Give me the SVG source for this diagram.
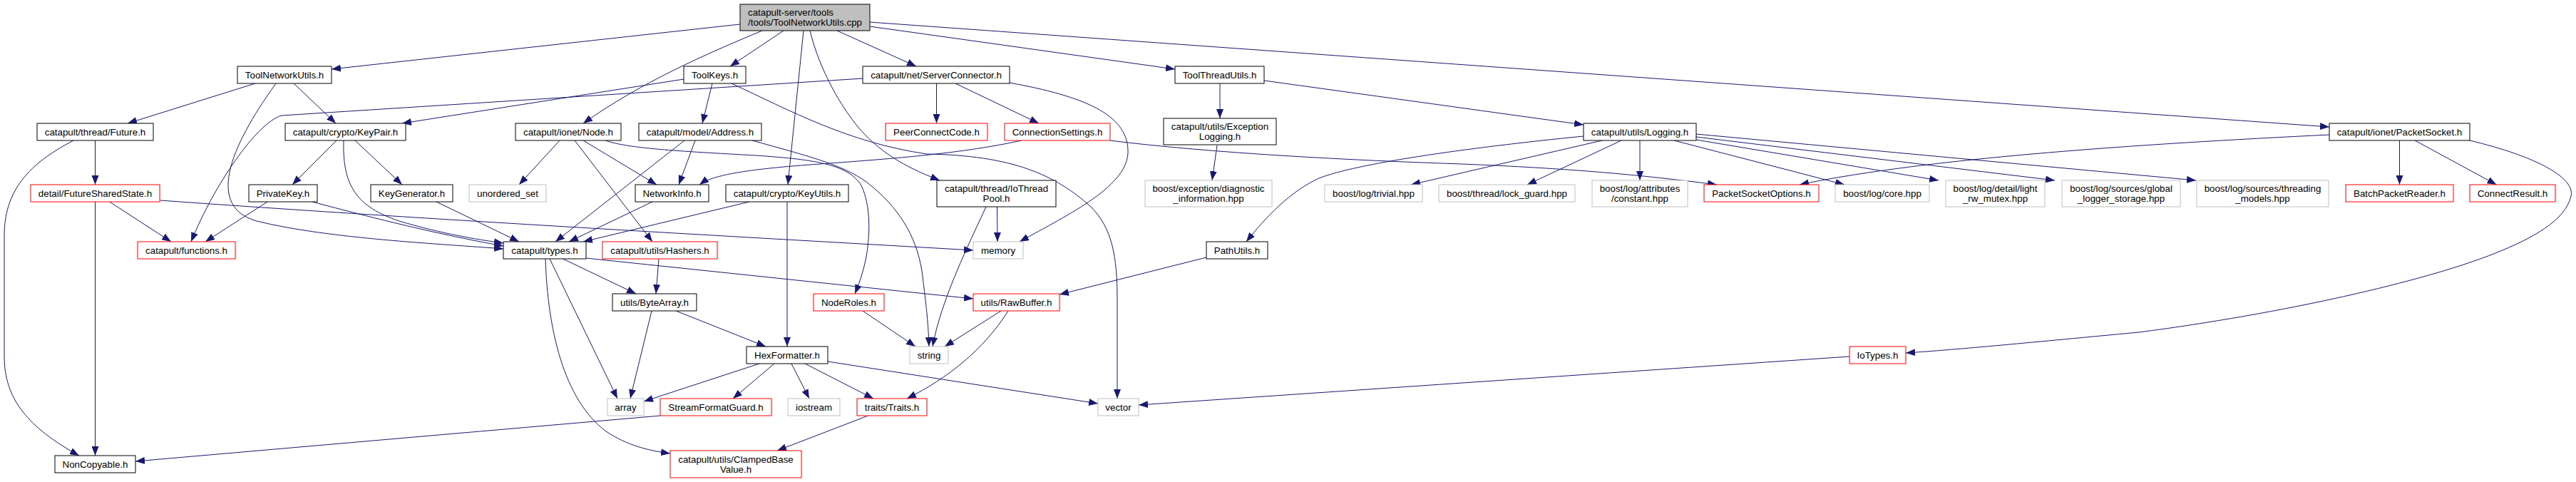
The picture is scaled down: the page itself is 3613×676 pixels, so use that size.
<svg xmlns="http://www.w3.org/2000/svg" width="3613" height="676" viewBox="0 0 3613 676">
<defs>
<marker id="a" markerWidth="13" markerHeight="10" refX="13" refY="5" orient="auto" markerUnits="userSpaceOnUse"><path d="M0,0 L13,5 L0,10 z" fill="#191970"/></marker>
</defs>
<style>
rect{fill:#fff;stroke-width:1}
.n rect{stroke:#000}
.r rect{stroke:#ff0000}
.g rect{stroke:#bfbfbf}
.m rect{stroke:#000;fill:#bfbfbf}
text{font-family:"Liberation Sans",Arial,Helvetica,sans-serif;font-size:13.33px;fill:#000;text-anchor:middle}
.m text{text-anchor:start}
#edges path{fill:none;stroke:#191970;stroke-width:1;marker-end:url(#a)}
</style>
<rect x="0" y="0" width="3613" height="676" style="fill:#fff;stroke:none"/>
<g id="edges">
<path d="M1038,34 L465,97"/>
<path d="M1099,43 L1024,93"/>
<path d="M1069,43 C990,76 900,115 818,173"/>
<path d="M1127,43 L1105,259"/>
<path d="M1136,43 C1150,100 1180,150 1205,180 C1240,220 1280,238 1318,253"/>
<path d="M1174,43 L1285,93"/>
<path d="M1220,37 L1648,97"/>
<path d="M1220,31 L3267,178"/>
<path d="M1773,113 L2221,175"/>
<path d="M1711,117 L1711,166"/>
<path d="M1707,204 L1700,253"/>
<path d="M358,117 L179,173"/>
<path d="M412,117 L471,173"/>
<path d="M387,117 C320,210 290,290 360,310 C460,335 620,342 706,349"/>
<path d="M133.5,197 L133.5,259"/>
<path d="M103,197 C50,225 6,260 6,330 L6,500 C6,560 40,600 111,639"/>
<path d="M133.5,283 L133.5,639"/>
<path d="M153.7,283 L240,339"/>
<path d="M224.5,281 C600,308 1000,330 1365,351"/>
<path d="M472,197 L410,259"/>
<path d="M498,197 L564,259"/>
<path d="M482,197 C480,260 500,290 560,310 C620,328 670,336 706,341"/>
<path d="M438,283 C520,305 620,330 706,345"/>
<path d="M375,283 L288,339"/>
<path d="M612,283 L728,339"/>
<path d="M959,111 L564,173"/>
<path d="M999,117 L985,173"/>
<path d="M1026,117 C1110,156 1190,200 1300,216 C1420,218 1480,245 1530,290 C1560,320 1567,360 1567,420 L1567,559"/>
<path d="M785,197 L728,259"/>
<path d="M818,197 L921,259"/>
<path d="M806,197 L915,339"/>
<path d="M849,197 C880,208 950,212 1060,218 C1150,224 1190,232 1208,260 C1222,290 1220,330 1215,360 C1210,385 1204,400 1199,412"/>
<path d="M960,197 L779,339"/>
<path d="M975,197 L952,259"/>
<path d="M1055,197 C1130,218 1180,230 1215,255 C1260,290 1285,330 1293,380 C1298,420 1302,450 1303,486"/>
<path d="M915,283 L798,339"/>
<path d="M1051,283 L818,339"/>
<path d="M1104,283 L1104,486"/>
<path d="M1313.5,117 L1313.5,173"/>
<path d="M1340,117 L1457,173"/>
<path d="M1210,110 L395,162 C360,172 300,260 268,339"/>
<path d="M1416,116 C1520,135 1580,160 1582,210 C1585,260 1500,300 1430,339"/>
<path d="M1383,290 C1360,340 1320,420 1308,486"/>
<path d="M1398.5,290 L1399,339"/>
<path d="M1433,197 C1350,215 1260,222 1150,230 C1050,237 1000,245 981,259"/>
<path d="M1557,197 C1700,215 1900,225 2050,230 C2200,236 2300,245 2408,259"/>
<path d="M2221,191 C2050,208 1900,230 1850,250 C1810,268 1775,305 1748,339"/>
<path d="M2247,197 L1979,259"/>
<path d="M2274,197 L2142,259"/>
<path d="M2300,197 L2300,253"/>
<path d="M2348,197 L2587,259"/>
<path d="M2379,196 L2719,253"/>
<path d="M2379,192 L2882,253"/>
<path d="M2379,188 L3080,253"/>
<path d="M3267,189 C3000,202 2700,222 2524,259"/>
<path d="M3365.5,197 L3365.5,259"/>
<path d="M3387,197 L3501.5,259"/>
<path d="M3464,197 C3560,220 3612,250 3606,275 C3598,310 3550,335 3500,355 C3400,395 3200,440 3000,466 C2850,480 2750,490 2673,495"/>
<path d="M2594,500 L1597,568"/>
<path d="M1692,361 L1486,413"/>
<path d="M789.5,363 L892,412"/>
<path d="M771,363 L866,559"/>
<path d="M765,363 C768,460 790,560 850,605 C880,625 910,632 940,636"/>
<path d="M822,362 L1365,419"/>
<path d="M924,363 L920,412"/>
<path d="M914,436 L884,559"/>
<path d="M948,436 L1074,486"/>
<path d="M1065,510 L903,563"/>
<path d="M1086,510 L1028,559"/>
<path d="M1110,510 L1135,559"/>
<path d="M1129,510 L1225,559"/>
<path d="M1161,507 L1540,566"/>
<path d="M926,583 L190,647"/>
<path d="M1217.5,583 L1090,632"/>
<path d="M1404,436 L1325,486"/>
<path d="M1414,436 C1380,490 1330,530 1272,559"/>
<path d="M1210,436 L1284,486"/>
</g>
<g id="n0" class="m"><rect x="1038" y="6" width="182" height="37"/><text x="1049" y="22">catapult-server/tools</text><text x="1049" y="36">/tools/ToolNetworkUtils.cpp</text></g>
<g id="n1" class="n"><rect x="333" y="93" width="132" height="24"/><text x="399" y="109.5">ToolNetworkUtils.h</text></g>
<g id="n2" class="n"><rect x="959" y="93" width="87" height="24"/><text x="1002.5" y="109.5">ToolKeys.h</text></g>
<g id="n3" class="n"><rect x="1210" y="93" width="206" height="24"/><text x="1313" y="109.5">catapult/net/ServerConnector.h</text></g>
<g id="n4" class="n"><rect x="1648" y="93" width="125" height="24"/><text x="1710.5" y="109.5">ToolThreadUtils.h</text></g>
<g id="n5" class="n"><rect x="52" y="173" width="163" height="24"/><text x="133.5" y="189.5">catapult/thread/Future.h</text></g>
<g id="n6" class="n"><rect x="400" y="173" width="169" height="24"/><text x="484.5" y="189.5">catapult/crypto/KeyPair.h</text></g>
<g id="n7" class="n"><rect x="723" y="173" width="148" height="24"/><text x="797" y="189.5">catapult/ionet/Node.h</text></g>
<g id="n8" class="n"><rect x="896" y="173" width="172" height="24"/><text x="982" y="189.5">catapult/model/Address.h</text></g>
<g id="n9" class="r"><rect x="1242" y="173" width="143" height="24"/><text x="1313.5" y="189.5">PeerConnectCode.h</text></g>
<g id="n10" class="r"><rect x="1409" y="173" width="148" height="24"/><text x="1483" y="189.5">ConnectionSettings.h</text></g>
<g id="n11" class="n"><rect x="1632" y="166" width="158" height="37"/><text x="1711" y="182">catapult/utils/Exception</text><text x="1711" y="196">Logging.h</text></g>
<g id="n12" class="n"><rect x="2221" y="173" width="158" height="24"/><text x="2300" y="189.5">catapult/utils/Logging.h</text></g>
<g id="n13" class="n"><rect x="3267" y="173" width="197" height="24"/><text x="3365.5" y="189.5">catapult/ionet/PacketSocket.h</text></g>
<g id="n14" class="r"><rect x="43" y="259" width="181" height="24"/><text x="133.5" y="275.5">detail/FutureSharedState.h</text></g>
<g id="n15" class="n"><rect x="349" y="259" width="96" height="24"/><text x="397" y="275.5">PrivateKey.h</text></g>
<g id="n16" class="n"><rect x="520" y="259" width="115" height="24"/><text x="577.5" y="275.5">KeyGenerator.h</text></g>
<g id="n17" class="g"><rect x="658" y="259" width="108" height="24"/><text x="712" y="275.5">unordered_set</text></g>
<g id="n18" class="n"><rect x="891" y="259" width="103" height="24"/><text x="942.5" y="275.5">NetworkInfo.h</text></g>
<g id="n19" class="n"><rect x="1018" y="259" width="172" height="24"/><text x="1104" y="275.5">catapult/crypto/KeyUtils.h</text></g>
<g id="n20" class="n"><rect x="1314" y="253" width="167" height="37"/><text x="1397.5" y="269">catapult/thread/IoThread</text><text x="1397.5" y="282.5">Pool.h</text></g>
<g id="n21" class="g"><rect x="1606" y="253" width="178" height="37"/><text x="1695" y="269">boost/exception/diagnostic</text><text x="1695" y="282.5">_information.hpp</text></g>
<g id="n22" class="g"><rect x="1858" y="259" width="137" height="24"/><text x="1926.5" y="275.5">boost/log/trivial.hpp</text></g>
<g id="n23" class="g"><rect x="2018" y="259" width="191" height="24"/><text x="2113.5" y="275.5">boost/thread/lock_guard.hpp</text></g>
<g id="n24" class="g"><rect x="2233" y="253" width="134" height="37"/><text x="2300" y="269">boost/log/attributes</text><text x="2300" y="282.5">/constant.hpp</text></g>
<g id="n25" class="r"><rect x="2390" y="259" width="161" height="24"/><text x="2470.5" y="275.5">PacketSocketOptions.h</text></g>
<g id="n26" class="g"><rect x="2574" y="259" width="132" height="24"/><text x="2640" y="275.5">boost/log/core.hpp</text></g>
<g id="n27" class="g"><rect x="2729" y="253" width="139" height="37"/><text x="2798.5" y="269">boost/log/detail/light</text><text x="2798.5" y="282.5">_rw_mutex.hpp</text></g>
<g id="n28" class="g"><rect x="2892" y="253" width="166" height="37"/><text x="2975" y="269">boost/log/sources/global</text><text x="2975" y="282.5">_logger_storage.hpp</text></g>
<g id="n29" class="g"><rect x="3081" y="253" width="185" height="37"/><text x="3173.5" y="269">boost/log/sources/threading</text><text x="3173.5" y="282.5">_models.hpp</text></g>
<g id="n30" class="r"><rect x="3290" y="259" width="151" height="24"/><text x="3365.5" y="275.5">BatchPacketReader.h</text></g>
<g id="n31" class="r"><rect x="3464" y="259" width="120" height="24"/><text x="3524" y="275.5">ConnectResult.h</text></g>
<g id="n32" class="r"><rect x="193" y="339" width="137" height="24"/><text x="261.5" y="355.5">catapult/functions.h</text></g>
<g id="n33" class="n"><rect x="706" y="339" width="116" height="24"/><text x="764" y="355.5">catapult/types.h</text></g>
<g id="n34" class="r"><rect x="845" y="339" width="161" height="24"/><text x="925.5" y="355.5">catapult/utils/Hashers.h</text></g>
<g id="n35" class="g"><rect x="1365" y="339" width="70" height="24"/><text x="1400" y="355.5">memory</text></g>
<g id="n36" class="n"><rect x="1692" y="339" width="86" height="24"/><text x="1735" y="355.5">PathUtils.h</text></g>
<g id="n37" class="n"><rect x="859" y="412" width="118" height="24"/><text x="918" y="428.5">utils/ByteArray.h</text></g>
<g id="n38" class="r"><rect x="1141" y="412" width="99" height="24"/><text x="1190.5" y="428.5">NodeRoles.h</text></g>
<g id="n39" class="r"><rect x="1365" y="412" width="121" height="24"/><text x="1425.5" y="428.5">utils/RawBuffer.h</text></g>
<g id="n40" class="n"><rect x="1047" y="486" width="114" height="24"/><text x="1104" y="502.5">HexFormatter.h</text></g>
<g id="n41" class="g"><rect x="1276" y="486" width="54" height="24"/><text x="1303" y="502.5">string</text></g>
<g id="n42" class="r"><rect x="2594" y="486" width="79" height="24"/><text x="2633.5" y="502.5">IoTypes.h</text></g>
<g id="n43" class="g"><rect x="852" y="559" width="51" height="24"/><text x="877.5" y="575.5">array</text></g>
<g id="n44" class="r"><rect x="926" y="559" width="156" height="24"/><text x="1004" y="575.5">StreamFormatGuard.h</text></g>
<g id="n45" class="g"><rect x="1105" y="559" width="73" height="24"/><text x="1141.5" y="575.5">iostream</text></g>
<g id="n46" class="r"><rect x="1202" y="559" width="98" height="24"/><text x="1251" y="575.5">traits/Traits.h</text></g>
<g id="n47" class="g"><rect x="1540" y="559" width="57" height="24"/><text x="1568.5" y="575.5">vector</text></g>
<g id="n48" class="n"><rect x="77" y="639" width="113" height="24"/><text x="133.5" y="655.5">NonCopyable.h</text></g>
<g id="n49" class="r"><rect x="940" y="632" width="184" height="38"/><text x="1032" y="649">catapult/utils/ClampedBase</text><text x="1032" y="662.5">Value.h</text></g>
</svg>
